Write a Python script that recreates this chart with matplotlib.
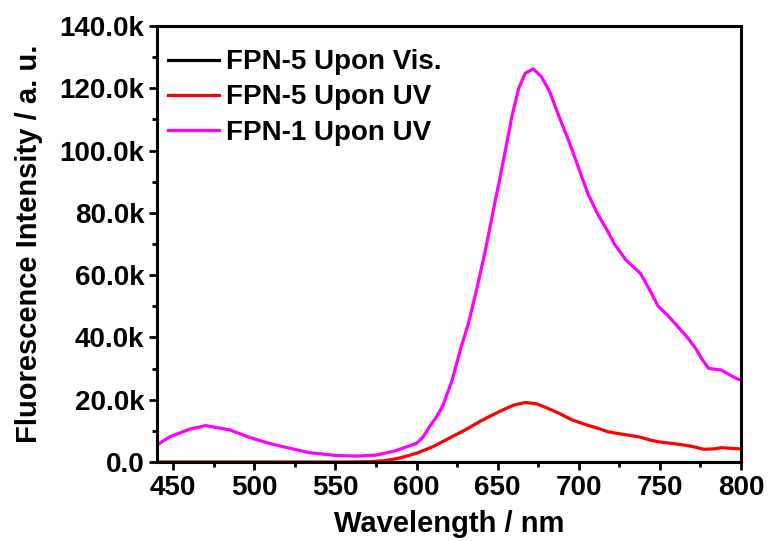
import matplotlib
matplotlib.use("Agg")
import matplotlib.pyplot as plt
from matplotlib.ticker import MultipleLocator, FuncFormatter

plt.rcParams['font.family'] = ['Liberation Sans', 'DejaVu Sans']
plt.rcParams['font.weight'] = 'bold'

# FPN-1 Upon UV (magenta)
wl_fpn1 = [440, 448, 460, 470, 485, 497, 509, 522, 534, 550, 563, 575, 587, 594,
           600, 604, 608, 612, 616, 622, 627, 632, 637, 642.5, 648.6, 651, 655, 659,
           663, 667, 672, 677, 682, 687.5, 694, 700, 706, 712, 718, 722, 729, 738,
           744, 749, 755, 761, 767, 772, 776, 780, 784, 788, 793, 798, 800]
int_fpn1 = [5.5, 8.1, 10.5, 11.7, 10.3, 7.9, 6.0, 4.4, 3.0, 2.1, 1.9, 2.2, 3.6, 4.9,
            6.0, 8.0, 11.3, 14.2, 17.8, 26.3, 36.0, 44.5, 55.2, 68.1, 84.1, 90.0, 100.7, 111.4,
            120.0, 124.8, 126.2, 123.7, 119.0, 111.4, 102.9, 94.3, 85.7, 79.3, 74.0, 70.0, 64.9, 60.6,
            55.0, 50.0, 47.0, 43.5, 40.0, 36.5, 33.0, 30.1, 29.8, 29.5, 28.0, 26.6, 26.3]

# FPN-5 Upon UV (red)
wl_fpn5_uv = [440, 470, 500, 530, 560, 570, 580, 589, 600, 610, 620, 630, 640, 651,
              660, 667, 674, 681, 688, 696, 705, 712, 718, 727, 737, 743, 749, 760,
              769, 777, 783, 788, 794, 800]
int_fpn5_uv = [0.0, 0.0, 0.0, 0.0, 0.0, 0.1, 0.4, 1.2, 2.8, 4.9, 7.6, 10.3, 13.3, 16.2,
               18.3, 19.1, 18.7, 17.2, 15.6, 13.5, 11.9, 10.8, 9.7, 8.9, 8.1, 7.2, 6.5, 5.8,
               5.1, 4.1, 4.2, 4.6, 4.4, 4.2]

# FPN-5 Upon Vis. (black, hidden under the red baseline)
wl_fpn5_vis = [440, 500, 550, 600, 650, 700, 750, 800]
int_fpn5_vis = [0.0, 0.0, 0.0, 0.0, 0.0, 0.0, 0.0, 0.0]

fig = plt.figure(figsize=(7.68, 5.41), dpi=100)
ax = fig.add_axes([0.2044, 0.146, 0.7604, 0.806])

lw = 2.3
ax.plot(wl_fpn5_vis, [v * 1000 for v in int_fpn5_vis], color='black', lw=lw, label='FPN-5 Upon Vis.')
ax.plot(wl_fpn5_uv, [v * 1000 for v in int_fpn5_uv], color='#ff0000', lw=lw, label='FPN-5 Upon UV')
ax.plot(wl_fpn1, [v * 1000 for v in int_fpn1], color='#ff00ff', lw=lw, label='FPN-1 Upon UV')

ax.set_xlim(440, 800)
ax.set_ylim(0, 140000)
ax.xaxis.set_major_locator(MultipleLocator(50))
ax.xaxis.set_minor_locator(MultipleLocator(25))
ax.yaxis.set_major_locator(MultipleLocator(20000))
ax.yaxis.set_minor_locator(MultipleLocator(10000))
ax.yaxis.set_major_formatter(FuncFormatter(lambda v, p: '0.0' if v == 0 else f'{v/1000:.1f}k'))

for s in ax.spines.values():
    s.set_linewidth(2.2)
ax.tick_params(which='major', direction='out', length=6, width=2, labelsize=20, pad=3)
ax.tick_params(which='minor', direction='out', length=3.5, width=2)
ax.tick_params(top=False, right=False, which='both')
for lab in ax.get_xticklabels() + ax.get_yticklabels():
    lab.set_fontweight('bold')

ax.set_xlabel('Wavelength / nm', fontsize=21, fontweight='bold', labelpad=7)
ax.set_ylabel('Fluorescence Intensity / a. u.', fontsize=21, fontweight='bold', labelpad=12)

leg = ax.legend(loc='upper left', frameon=False, fontsize=20, handlelength=1.85,
                handletextpad=0.25, labelspacing=0.33, borderaxespad=0.25,
                bbox_to_anchor=(-0.012, 0.988))
for t in leg.get_texts():
    t.set_fontweight('bold')

fig.savefig('out.png', dpi=100)
